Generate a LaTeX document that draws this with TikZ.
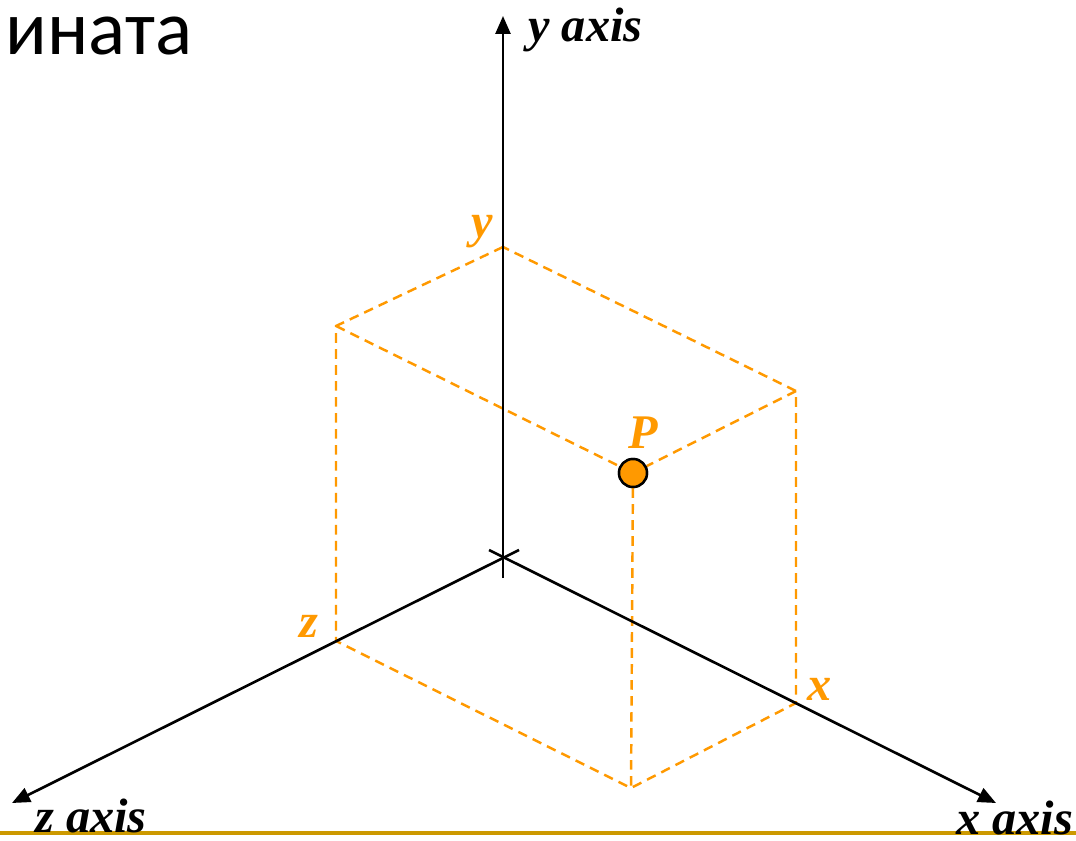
\documentclass[tikz,border=0pt]{standalone}
\usepackage{fontspec}
\setmainfont{Liberation Serif}
\newfontfamily\titlefont{Carlito}
\usetikzlibrary{arrows.meta}
\definecolor{pointorange}{RGB}{255,153,0}
\definecolor{rulegold}{RGB}{204,153,0}

\begin{document}
\begin{tikzpicture}[
    x=0.02cm, y=-0.02cm,
    axis/.style={line width=1.5pt, -{Triangle[length=0.36cm, width=0.3cm]}},
    guide/.style={pointorange, line width=1.4pt, dash pattern=on 5.5pt off 3.6pt},
    axislabel/.style={font=\fontsize{27.5}{32}\selectfont\bfseries\itshape, inner sep=0pt, anchor=base west},
    coordlabel/.style={axislabel, text=pointorange, anchor=base},
    point/.style={circle, draw=black, line width=1.4pt, fill=pointorange, minimum size=0.56cm, inner sep=0pt}
  ]
    \useasboundingbox (0,0) rectangle (1076,841);
    % axes ends
    \coordinate (origin) at (503,558);
    \coordinate (ytip) at (503,16);
    \coordinate (ytail) at (503,578);
    \coordinate (xtip) at (996,803);
    \coordinate (xtail) at (489,550);
    \coordinate (ztip) at (12,803);
    \coordinate (ztail) at (519,550);
    % box corners
    \coordinate (ypt) at (503,247);
    \coordinate (zpt) at (336,641);
    \coordinate (xpt) at (796,703);
    \coordinate (yz) at (336,326);
    \coordinate (xy) at (796,391);
    \coordinate (xz) at (631,788);
    \node[point] (P) at (633,473) {};

    \draw[rulegold, line width=2.2pt] (0,833) -- (1076,833);

    \draw[guide] (ypt) -- (yz) -- (zpt) -- (xz) -- (xpt) -- (xy) -- cycle;
    \draw[guide] (yz) -- (P);
    \draw[guide] (xy) -- (P);
    \draw[guide] (P) -- (xz);

    \draw[axis] (ytail) -- (ytip);
    \draw[axis] (xtail) -- (xtip);
    \draw[axis] (ztail) -- (ztip);
    \node[point] at (P) {};

    \node[axislabel] (ylabel) at (528,42) {y axis};
    \node[axislabel] (zlabel) at (35,832) {z axis};
    \node[axislabel] (xlabel) at (956,834) {x axis};
    \node[coordlabel] (ymark) at (482,238) {y};
    \node[coordlabel] (zmark) at (309,637) {z};
    \node[coordlabel] (xmark) at (820,700) {x};
    \node[coordlabel] (pmark) at (643,449) {P};

    \node[font=\titlefont\fontsize{44}{50}\selectfont, inner sep=0pt, anchor=base west] (title) at (5,55) {ината};
\end{tikzpicture}
\end{document}
